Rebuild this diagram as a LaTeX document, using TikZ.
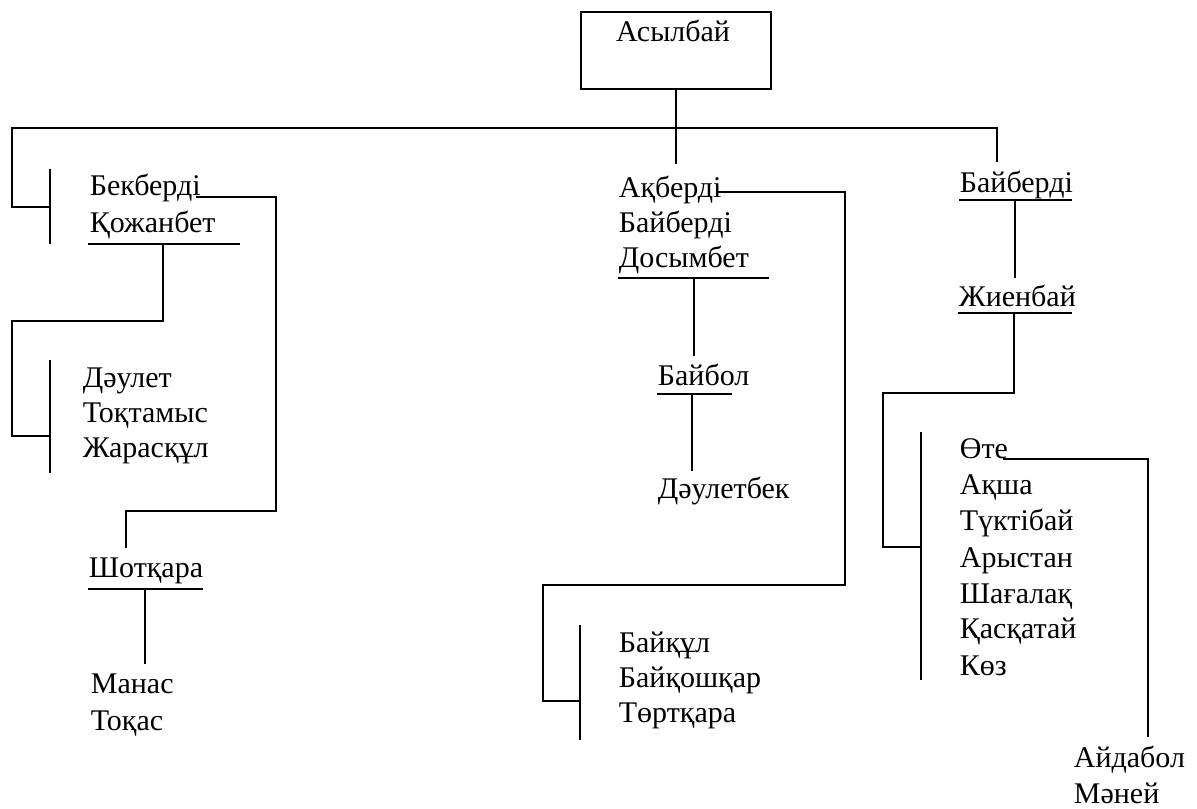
\documentclass[tikz,border=0pt]{standalone}
\usepackage{fontspec}
\setmainfont{Liberation Serif}

\begin{document}
\begin{tikzpicture}[x=0.5pt,y=-0.5pt,line width=0.9pt,
    nm/.style={anchor=base west,inner sep=0pt,font=\fontsize{15}{18}\selectfont}]
  \useasboundingbox (0,0) rectangle (1197,808);
  % root box
  \node[draw,line width=0.6pt,minimum width=95pt,minimum height=38.5pt,inner sep=0pt] (root) at (676,50.5) {};
  \node[nm,anchor=base] (asyl) at (673,42) {Асылбай};
  % names
  \path
    (89,195) node[nm] (bek) {Бекберді}
    (89,232) node[nm] (kozh) {Қожанбет}
    (82,387) node[nm] (daul) {Дәулет}
    (82,422) node[nm] (tokt) {Тоқтамыс}
    (82,457) node[nm] (zhar) {Жарасқұл}
    (88,577) node[nm] (shot) {Шотқара}
    (90,693) node[nm] (manas) {Манас}
    (90,730) node[nm] (tokas) {Тоқас}
    (618,197) node[nm] (akb) {Ақберді}
    (618,232) node[nm] (bayb) {Байберді}
    (618,267) node[nm] (dosym) {Досымбет}
    (657,385) node[nm] (baybol) {Байбол}
    (657,498) node[nm] (daulbek) {Дәулетбек}
    (618,652) node[nm] (baykul) {Байқұл}
    (618,687) node[nm] (baykosh) {Байқошқар}
    (618,722) node[nm] (tortk) {Төртқара}
    (959,192) node[nm] (bayb2) {Байберді}
    (958,306) node[nm] (zhien) {Жиенбай}
    (959,458) node[nm] (ote) {Өте}
    (959,494) node[nm] (aksha) {Ақша}
    (959,530) node[nm] (tukt) {Түктібай}
    (959,567) node[nm] (aryst) {Арыстан}
    (959,603) node[nm] (shag) {Шағалақ}
    (959,638) node[nm] (kask) {Қасқатай}
    (959,675) node[nm] (koz) {Көз}
    (1073,767) node[nm] (ayd) {Айдабол}
    (1073,803) node[nm] (maney) {Мәней};
  % underlines
  \draw (88,244) -- (240,244);
  \draw (88,589) -- (203,589);
  \draw (618,278) -- (769,278);
  \draw (657,394) -- (732,394);
  \draw (959,200) -- (1072,200);
  \draw (958,313) -- (1072,313);
  % brackets
  \draw (50,169) -- (50,244);
  \draw (50,360) -- (50,473);
  \draw (580,625) -- (580,740);
  \draw (921,432) -- (921,680);
  % connectors
  \draw (root.south) -- ++(0,74);
  \draw (50,207) -| (12,128) -| (997,162);
  \draw ([shift={(-3pt,-1pt)}]bek.base east) -| (276,511) -| (126,548);
  \draw (163,244) |- (12,321) |- (50,436);
  \draw (145,589) -- (145,664);
  \draw (694,278) -- (694,356);
  \draw (692,394) -- (692,471);
  \draw ([shift={(-3pt,2.5pt)}]akb.base east) -| (845,585) -| (543,701) -- (580,701);
  \draw (1015,200) -- (1015,278);
  \draw (1014,313) |- (883,393) |- (921,547);
  \draw ([shift={(-3pt,-0.5pt)}]ote.base east) -| (1148,737);
\end{tikzpicture}
\end{document}
